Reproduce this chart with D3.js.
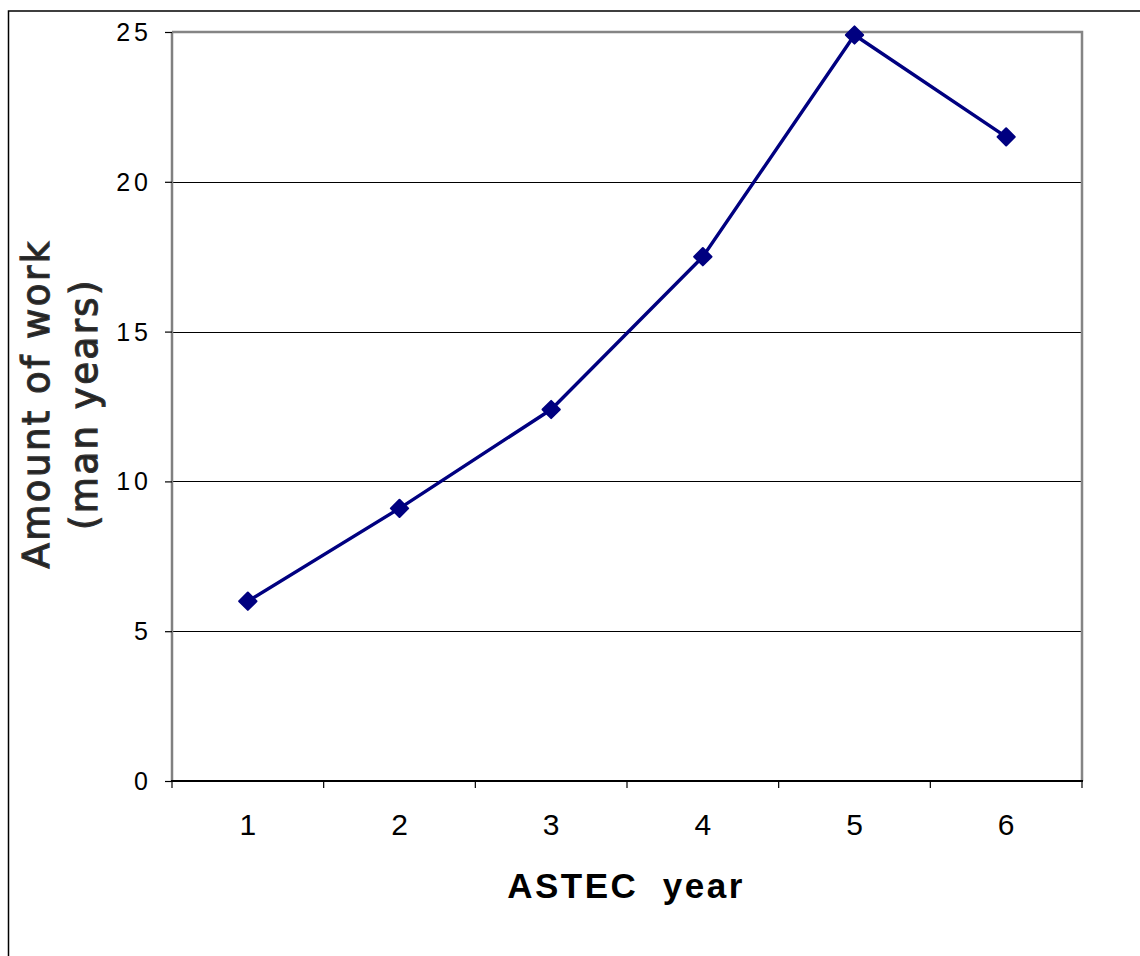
<!DOCTYPE html>
<html>
<head>
<meta charset="utf-8">
<script src="https://cdn.jsdelivr.net/npm/d3@7"></script>
<style>
  html, body { margin: 0; padding: 0; background: #fff; }
  svg { display: block; }
</style>
</head>
<body>
<svg id="chart" width="1140" height="956"></svg>
<script>
const categories = ["1", "2", "3", "4", "5", "6"];
const values = [6.0, 9.1, 12.4, 17.5, 24.9, 21.5];
const yTicks = [0, 5, 10, 15, 20, 25];
const xTitle = "ASTEC  year";
const yTitleLines = ["Amount of work", "(man years)"];

const svg = d3.select("#chart");
const plotLeft = 172, plotRight = 1082, plotTop = 32, plotBottom = 781;

const x = d3.scaleBand().domain(categories).range([plotLeft, plotRight]).padding(0);
const y = d3.scaleLinear().domain([0, 25]).range([plotBottom, plotTop]);

// outer frame (right and bottom edges beyond the page)
svg.append("rect")
  .attr("x", 8.5).attr("y", 11).attr("width", 1300).attr("height", 1100)
  .attr("fill", "none").attr("stroke", "#000").attr("stroke-width", 1.5);

// gridlines
svg.append("g").selectAll("line")
  .data(yTicks.filter(t => t > 0 && t < 25))
  .join("line")
  .attr("x1", plotLeft).attr("x2", plotRight)
  .attr("y1", d => Math.round(y(d)) + 0.5).attr("y2", d => Math.round(y(d)) + 0.5)
  .attr("stroke", "#000").attr("stroke-width", 1);

// plot border top & right (gray)
svg.append("path")
  .attr("d", `M${plotLeft},${y(25)}H${plotRight}V${plotBottom}`)
  .attr("fill", "none").attr("stroke", "#858585").attr("stroke-width", 2.5);

// left axis line (gray)
svg.append("line")
  .attr("x1", plotLeft).attr("x2", plotLeft).attr("y1", y(25)).attr("y2", plotBottom)
  .attr("stroke", "#808080").attr("stroke-width", 2.5);

// y axis ticks and labels
const yAxis = d3.axisLeft(y).tickValues(yTicks).tickSize(7).tickPadding(17).tickFormat(d3.format("d"));
const gy = svg.append("g").attr("transform", `translate(${plotLeft},0)`).call(yAxis);
gy.select(".domain").remove();
gy.selectAll(".tick line").attr("stroke", "#000").attr("stroke-width", 1.2);
gy.selectAll(".tick text")
  .attr("font-family", "'Liberation Sans', Arial, sans-serif")
  .attr("font-size", 25).attr("fill", "#000")
  .attr("letter-spacing", 4).attr("dx", 4).attr("dy", "0.34em");

// x axis line
svg.append("line")
  .attr("x1", plotLeft - 1).attr("x2", plotRight + 1).attr("y1", plotBottom).attr("y2", plotBottom)
  .attr("stroke", "#000").attr("stroke-width", 2);

// x boundary ticks
const bounds = categories.map(c => x(c)).concat([x.range()[1]]);
svg.append("g").selectAll("line").data(bounds).join("line")
  .attr("x1", d => d).attr("x2", d => d)
  .attr("y1", plotBottom).attr("y2", plotBottom + 7)
  .attr("stroke", "#000").attr("stroke-width", 1.2);

// x labels
const xAxis = d3.axisBottom(x).tickSize(0).tickPadding(33);
const gx = svg.append("g").attr("transform", `translate(0,${plotBottom})`).call(xAxis);
gx.select(".domain").remove();
gx.selectAll(".tick text")
  .attr("font-family", "'Liberation Sans', Arial, sans-serif")
  .attr("font-size", 30).attr("fill", "#000");

// line
const cx = d => x(d.c) + x.bandwidth() / 2;
const pts = categories.map((c, i) => ({ c, v: values[i] }));
svg.append("path")
  .datum(pts)
  .attr("d", d3.line().x(cx).y(d => y(d.v)))
  .attr("fill", "none").attr("stroke", "#000080").attr("stroke-width", 3.4)
  .attr("stroke-linejoin", "round");

// markers (diamonds)
svg.append("g").selectAll("path").data(pts).join("path")
  .attr("d", d3.symbol().type(d3.symbolSquare).size(150))
  .attr("transform", d => `translate(${cx(d)},${y(d.v)}) rotate(45)`)
  .attr("fill", "#000080").attr("stroke", "#000080").attr("stroke-width", 2)
  .attr("stroke-linejoin", "round");

// x title
svg.append("text")
  .attr("x", 626).attr("y", 898)
  .attr("text-anchor", "middle")
  .attr("font-family", "'Liberation Sans', Arial, sans-serif")
  .attr("font-weight", "bold").attr("font-size", 35)
  .attr("letter-spacing", 2.5)
  .style("white-space", "pre")
  .text(xTitle);

// y title
const yt = svg.append("text")
  .attr("transform", "translate(0,404) rotate(-90)")
  .attr("text-anchor", "middle")
  .attr("font-family", "'DejaVu Sans', Verdana, sans-serif")
  .attr("font-size", 37).attr("fill", "#222")
  .attr("stroke", "#333").attr("stroke-width", 1.3)
  .attr("letter-spacing", 2.5);
yt.selectAll("tspan").data(yTitleLines).join("tspan")
  .attr("x", 0).attr("y", (d, i) => i === 0 ? 49 : 97)
  .text(d => d);
</script>
</body>
</html>
